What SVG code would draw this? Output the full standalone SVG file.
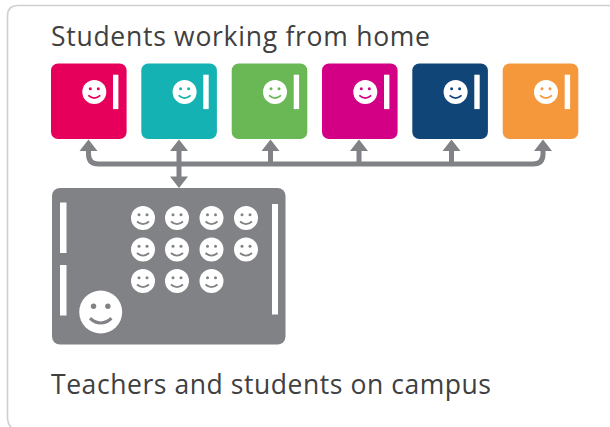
<svg xmlns="http://www.w3.org/2000/svg" xmlns:xlink="http://www.w3.org/1999/xlink" width="610" height="427" viewBox="0 0 610 427">
<style>
text{font-family:"Open Sans","Noto Sans","Liberation Sans",sans-serif;font-size:26.5px;fill:#404040}
.bar{fill:#fff}
.line{fill:none;stroke:#808285;stroke-width:5}
.head{fill:#808285}
</style>
<defs>
<g id="smile">
<circle r="12" fill="#fff"/>
<circle cx="-4" cy="-3.200" r="1.500" fill="currentColor"/>
<circle cx="4" cy="-3.200" r="1.500" fill="currentColor"/>
<path d="M-6 3.500 Q0 8.800 6 3.500" fill="none" stroke="currentColor" stroke-width="1.700"/>
</g>
<g id="tile">
<rect width="75.600" height="75.600" rx="7"/>
<use xlink:href="#smile" href="#smile" x="43.300" y="28.400"/>
<rect class="bar" x="62" y="11.200" width="5.400" height="34.400"/>
</g>
</defs>
<path d="M610 5.500H18Q7.500 5.500 7.500 16V417Q7.500 425 13 429" fill="none" stroke="#cfcfcf" stroke-width="1.600"/>
<text id="label-home" x="51" y="45.500" textLength="379" lengthAdjust="spacing">Students working from home</text>
<g id="connectors">
<path class="line" d="M88.500 150V154Q88.500 164 98.500 164H533Q543 164 543 154V150"/>
<path class="line" d="M179 150V178M270.500 150V164M359 150V164M451.500 150V164"/>
<path class="head" d="M88.500 139.500l9 11.500h-18zM179 139.500l9 11.500h-18zM270.500 139.500l9 11.500h-18zM359 139.500l9 11.500h-18zM451.500 139.500l9 11.500h-18zM543 139.500l9 11.500h-18zM179 188l-9-11.500h18z"/>
</g>
<g id="home1" fill="#e6005c" color="#e6005c"><use xlink:href="#tile" href="#tile" x="51" y="63.500"/></g>
<g id="home2" fill="#14b2b2" color="#14b2b2"><use xlink:href="#tile" href="#tile" x="141.300" y="63.500"/></g>
<g id="home3" fill="#6ab755" color="#6ab755"><use xlink:href="#tile" href="#tile" x="231.700" y="63.500"/></g>
<g id="home4" fill="#d30086" color="#d30086"><use xlink:href="#tile" href="#tile" x="322" y="63.500"/></g>
<g id="home5" fill="#104578" color="#104578"><use xlink:href="#tile" href="#tile" x="412.300" y="63.500"/></g>
<g id="home6" fill="#f5983c" color="#f5983c"><use xlink:href="#tile" href="#tile" x="502.700" y="63.500"/></g>
<g id="campus" color="#808285">
<rect x="52" y="188" width="233.500" height="156.500" rx="8" fill="#808285"/>
<rect class="bar" x="60" y="202.500" width="6.500" height="50.500"/>
<rect class="bar" x="60" y="265" width="6.500" height="50.500"/>
<rect class="bar" x="272" y="204" width="6" height="110.500"/>
<use xlink:href="#smile" href="#smile" x="143" y="218"/>
<use xlink:href="#smile" href="#smile" x="177" y="218"/>
<use xlink:href="#smile" href="#smile" x="211.500" y="218"/>
<use xlink:href="#smile" href="#smile" x="246" y="218"/>
<use xlink:href="#smile" href="#smile" x="143" y="249.500"/>
<use xlink:href="#smile" href="#smile" x="177" y="249.500"/>
<use xlink:href="#smile" href="#smile" x="211.500" y="249.500"/>
<use xlink:href="#smile" href="#smile" x="246" y="249.500"/>
<use xlink:href="#smile" href="#smile" x="143" y="281"/>
<use xlink:href="#smile" href="#smile" x="177" y="281"/>
<use xlink:href="#smile" href="#smile" x="211.500" y="281"/>
<use xlink:href="#smile" href="#smile" transform="translate(100.700 312) scale(1.790)"/>
</g>
<text id="label-campus" x="51" y="394" textLength="440" lengthAdjust="spacing">Teachers and students on campus</text>
</svg>
